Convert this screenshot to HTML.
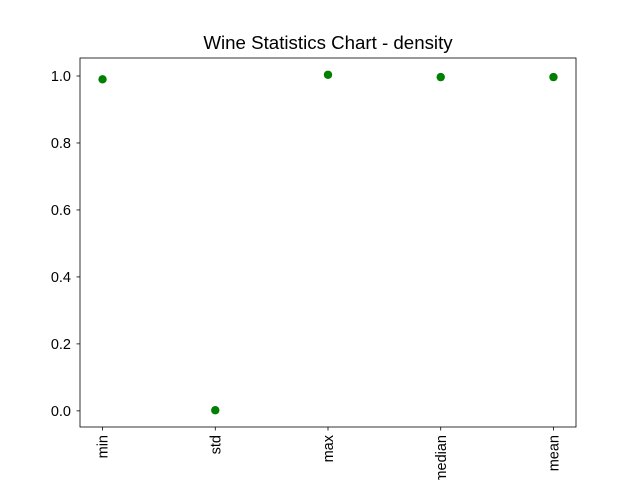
<!DOCTYPE html>
<html><head><meta charset="utf-8"><style>html,body{margin:0;padding:0;background:#fff}svg{display:block;font-family:"Liberation Sans","DejaVu Sans",sans-serif}</style></head>
<body>
<svg id="chart" width="640" height="480" viewBox="0 0 640 480">
<rect width="640" height="480" fill="#fff"/>
<text x="328" y="49" font-size="18.7" text-anchor="middle" fill="#000">Wine Statistics Chart - density</text>
<g id="plot"></g>
</svg>
<script>
const categories = ["min", "std", "max", "median", "mean"];
const values = [0.99007, 0.00189, 1.00369, 0.99675, 0.99675];
const yTicks = [0.0, 0.2, 0.4, 0.6, 0.8, 1.0];
const yTickLabels = ["0.0", "0.2", "0.4", "0.6", "0.8", "1.0"];

const L = 80, R = 576, T = 58, B = 427;
const xMin = -0.2, xMax = categories.length - 1 + 0.2;
const vMin = Math.min(...values), vMax = Math.max(...values), pad = (vMax - vMin) * 0.05;
const yMin = vMin - pad, yMax = vMax + pad;
const xs = i => L + (i - xMin) / (xMax - xMin) * (R - L);
const ys = v => B - (v - yMin) / (yMax - yMin) * (B - T);
const NS = "http://www.w3.org/2000/svg";
const g = document.getElementById("plot");
function mk(tag, attrs) { const e = document.createElementNS(NS, tag); for (const k in attrs) e.setAttribute(k, attrs[k]); g.appendChild(e); return e; }

yTicks.forEach((t, i) => {
  const y = ys(t);
  const tk = mk("line", {x1: L - 3.5, x2: L, y1: y, y2: y, stroke: "#000", "stroke-width": 0.8});
  
  
  const lb = mk("text", {x: L - 9, y: y + 5.2, "font-size": 14.5, "text-anchor": "end", fill: "#000"});
  lb.textContent = yTickLabels[i];
  
  
});
categories.forEach((c, i) => {
  const x = xs(i);
  const tk = mk("line", {x1: x, x2: x, y1: B, y2: B + 3.5, stroke: "#000", "stroke-width": 0.8});
  
  
  const lb = mk("text", {x: 0, y: 0, "font-size": 14.5, "text-anchor": "end", fill: "#000", transform: `translate(${x + 5.2},${B + 8}) rotate(-90)`});
  lb.textContent = c;
  
  
});
values.forEach((v, i) => {
  const p = mk("circle", {cx: xs(i), cy: ys(v), r: 4.2, fill: "#008000"});
  
  
});
const frame = mk("rect", {x: L, y: T, width: R - L, height: B - T, fill: "none", stroke: "#000", "stroke-width": 0.8});


</script>
</body></html>
